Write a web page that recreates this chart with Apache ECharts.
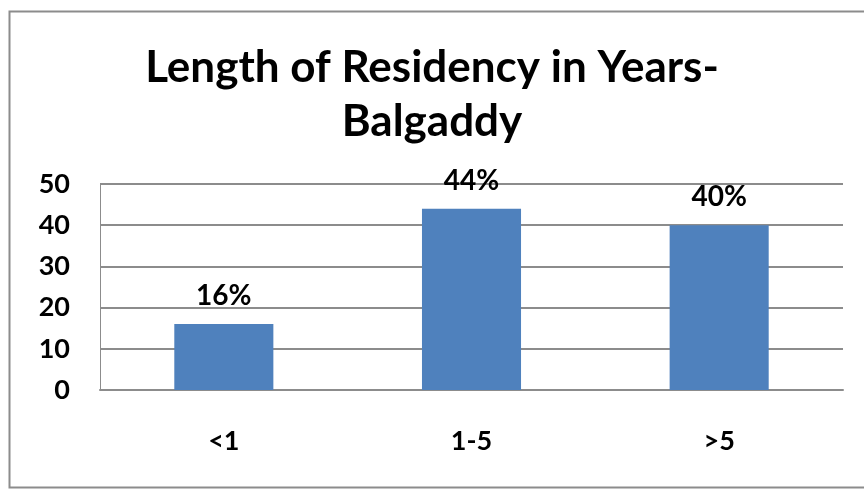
<!DOCTYPE html>
<html>
<head>
<meta charset="utf-8">
<script src="https://cdn.jsdelivr.net/npm/echarts@6/dist/echarts.min.js"></script>
<style>
html, body { margin: 0; padding: 0; background: #fff; }
#main { width: 864px; height: 489px; }
</style>
</head>
<body>
<div id="main"></div>
<script>
// 数据
var categories = ['<1', '1-5', '>5'];
var values = [16, 44, 40];
var labels = ['16%', '44%', '40%'];
var yTicks = [0, 10, 20, 30, 40, 50];

var myChart = echarts.init(document.getElementById('main'));
var font = 'Lato, "Open Sans", sans-serif';
var option = {
    animation: false,
    title: {
        text: 'Length of Residency in Years-\nBalgaddy',
        left: 'center',
        top: 36,
        textStyle: {
            fontFamily: font,
            fontWeight: 'bold',
            fontSize: 44,
            lineHeight: 54,
            color: '#000'
        }
    },
    graphic: [{
        type: 'rect',
        shape: { x: 9.5, y: 11.5, width: 900, height: 476 },
        style: { fill: 'none', stroke: '#8c8c8c', lineWidth: 2 },
        silent: true
    }],
    grid: {
        left: 100,
        right: 21,
        top: 184,
        bottom: 99,
        show: true,
        borderColor: '#8c8c8c',
        borderWidth: 0
    },
    xAxis: {
        type: 'category',
        data: categories,
        axisTick: { show: false },
        axisLine: { lineStyle: { color: '#8c8c8c', width: 2 } },
        axisLabel: {
            margin: 38,
            fontFamily: font,
            fontWeight: 'bold',
            fontSize: 27,
            color: '#000'
        }
    },
    yAxis: {
        type: 'value',
        min: yTicks[0],
        max: yTicks[yTicks.length - 1],
        interval: 10,
        axisLine: { show: true, lineStyle: { color: '#8c8c8c', width: 1 } },
        axisTick: { show: false },
        splitLine: { lineStyle: { color: '#8c8c8c', width: 2 } },
        axisLabel: {
            margin: 30,
            fontFamily: font,
            fontWeight: 'bold',
            fontSize: 27,
            color: '#000'
        }
    },
    series: [{
        type: 'bar',
        data: values,
        barWidth: '40%',
        itemStyle: { color: '#4f81bd' },
        label: {
            show: true,
            position: 'top',
            distance: 14,
            formatter: function (p) { return labels[p.dataIndex]; },
            fontFamily: font,
            fontWeight: 'bold',
            fontSize: 28,
            color: '#000'
        }
    }]
};
myChart.setOption(option);
</script>
</body>
</html>
